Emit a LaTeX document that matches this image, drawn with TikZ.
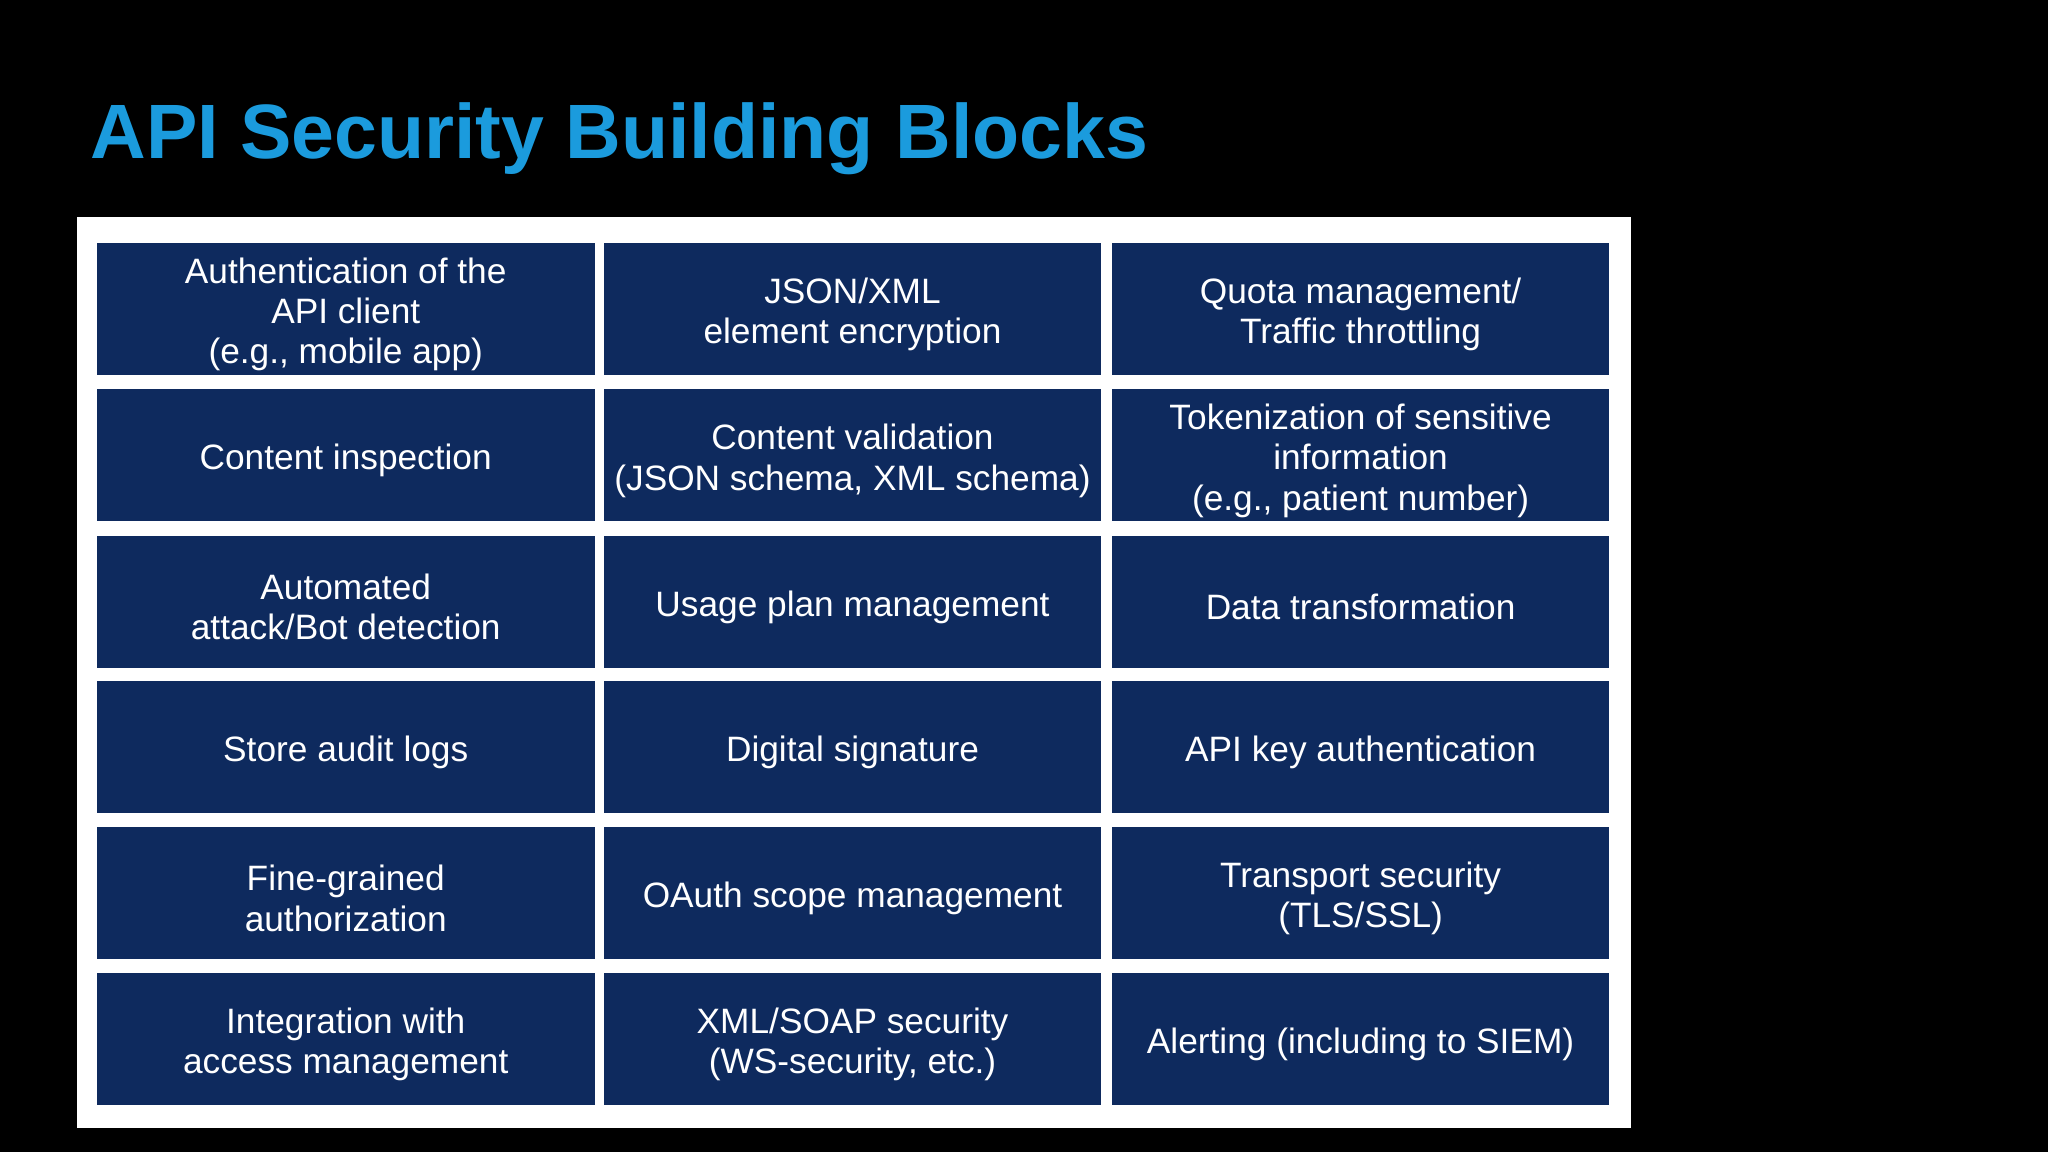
\documentclass[tikz,border=0pt]{standalone}
\usepackage{fontspec}
\setmainfont{Liberation Sans}
\definecolor{navy}{HTML}{0E2A5E}
\definecolor{titleblue}{HTML}{1B9BDD}
\begin{document}
\begin{tikzpicture}[x=1pt,y=-1pt,
  cell/.style={fill=navy,inner sep=0pt,minimum width=381pt,minimum height=101pt,anchor=north west},
  celltext/.style={text=white,align=center,inner sep=0pt,
    font=\fontsize{27}{31}\selectfont}]
\fill[black] (0,0) rectangle (1568,882);
\useasboundingbox (0,0) rectangle (1568,882);
\node[anchor=base west,text=titleblue,font=\fontsize{59}{66}\selectfont\bfseries,inner sep=0pt] (title) at (69,121) {API Security Building Blocks};
\fill[white] (59,166) rectangle (1249,864);
\def\xs{{74,462,851}}
\def\ys{{186,298,410,521,633,745}}
\foreach \r/\txt in {
 0/{Authentication of the\\API client\\(e.g., mobile app)},
 1/{JSON/XML\\element encryption},
 2/{Quota management/\\Traffic throttling},
 3/{Content inspection},
 4/{Content validation\\(JSON schema, XML schema)},
 5/{Tokenization of sensitive\\information\\(e.g., patient number)},
 6/{Automated\\attack/Bot detection},
 7/{Usage plan management},
 8/{Data transformation},
 9/{Store audit logs},
 10/{Digital signature},
 11/{API key authentication},
 12/{Fine-grained\\authorization},
 13/{OAuth scope management},
 14/{Transport security\\(TLS/SSL)},
 15/{Integration with\\access management},
 16/{XML/SOAP security\\(WS-security, etc.)},
 17/{Alerting (including to SIEM)}}{
 \pgfmathtruncatemacro\row{int(\r/3)}
 \pgfmathtruncatemacro\col{mod(\r,3)}
 \pgfmathsetmacro\xa{\xs[\col]}
 \pgfmathsetmacro\ya{\ys[\row]}
 \node[cell] (c\r) at (\xa,\ya) {};
 \node[celltext] (t\r) at ([yshift=-4pt]c\r.center) {\txt};
}
\end{tikzpicture}
\end{document}
